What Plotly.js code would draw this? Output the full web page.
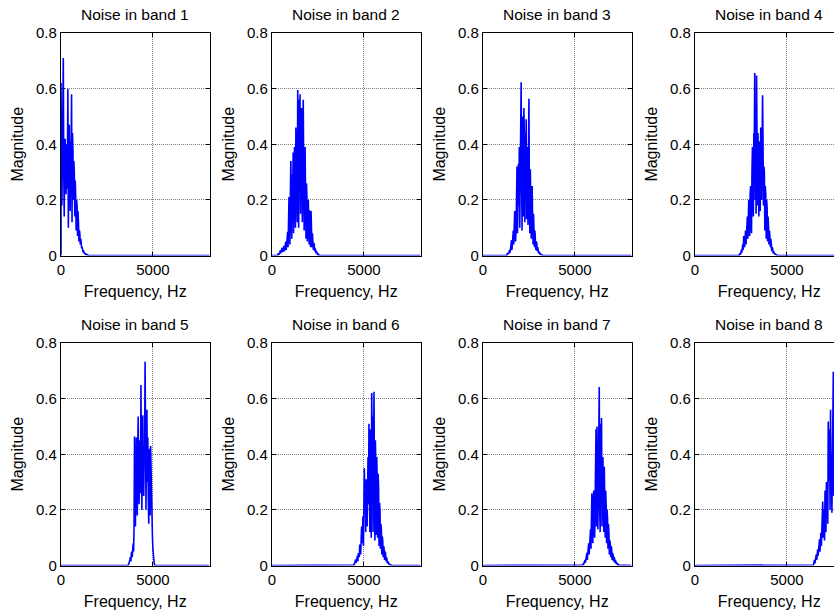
<!DOCTYPE html>
<html>
<head>
<meta charset="utf-8">
<script src="https://cdn.plot.ly/plotly-3.0.1.min.js"></script>
<style>
  html, body { margin: 0; padding: 0; overflow: hidden; background: #fff; }
  #chart { width: 900px; height: 614px; }
</style>
</head>
<body>
<div id="chart"></div>
<script>
// ---------- data ----------
const bandTitles = ["Noise in band 1", "Noise in band 2", "Noise in band 3", "Noise in band 4",
                    "Noise in band 5", "Noise in band 6", "Noise in band 7", "Noise in band 8"];
const xTickValues = [0, 5000];
const xTickLabels = ["0", "5000"];
const yTickValues = [0, 0.2, 0.4, 0.6, 0.8];
const yTickLabels = ["0", "0.2", "0.4", "0.6", "0.8"];
const freqMax = 8080;          // Hz, right edge of every panel
const freqStep = 25;           // Hz between the spectrum bins listed below

// first bin (Hz) of every band's listed magnitudes
const bandStart = [0, 300, 1300, 2400, 3650, 4400, 5400, 6400];

const band1 = [0.62, 0.35, 0.18, 0.44, 0.52, 0.71, 0.30, 0.14, 0.36, 0.42,
               0.25, 0.22, 0.40, 0.24, 0.33, 0.60, 0.10, 0.38, 0.47, 0.28,
               0.16, 0.41, 0.35, 0.58, 0.12, 0.44, 0.38, 0.20, 0.34, 0.30,
               0.14, 0.27, 0.21, 0.09, 0.20, 0.18, 0.07, 0.16, 0.12, 0.05,
               0.09, 0.08, 0.04, 0.06, 0.045, 0.025, 0.03, 0.022, 0.012, 0.018,
               0.01, 0.008, 0.01, 0.005, 0.006, 0.003, 0.004, 0.002, 0.002, 0.001, 0];
const band2 = [0, 0.004, 0.008, 0.003, 0.006, 0.012, 0.018, 0.008, 0.015, 0.022,
               0.028, 0.012, 0.02, 0.03, 0.034, 0.015, 0.03, 0.045, 0.05, 0.02,
               0.04, 0.07, 0.085, 0.03, 0.11, 0.21, 0.15, 0.04, 0.22, 0.34,
               0.18, 0.06, 0.29, 0.22, 0.37, 0.08, 0.30, 0.39, 0.24, 0.10,
               0.46, 0.33, 0.41, 0.12, 0.595, 0.38, 0.10, 0.56, 0.42, 0.58,
               0.15, 0.44, 0.53, 0.36, 0.12, 0.45, 0.56, 0.30, 0.09, 0.33,
               0.39, 0.22, 0.06, 0.26, 0.21, 0.05, 0.18, 0.20, 0.10, 0.04,
               0.163, 0.12, 0.03, 0.16, 0.09, 0.03, 0.08, 0.06, 0.02, 0.045,
               0.04, 0.015, 0.025, 0.02, 0.008, 0.014, 0.01, 0.004, 0.006, 0.005,
               0.002, 0.001, 0];
const band3 = [0, 0.008, 0.004, 0.01, 0.006, 0.015, 0.02, 0.01, 0.025, 0.035,
               0.055, 0.02, 0.045, 0.07, 0.09, 0.04, 0.10, 0.16, 0.12, 0.05,
               0.10, 0.20, 0.32, 0.08, 0.25, 0.33, 0.18, 0.39, 0.10, 0.36,
               0.45, 0.623, 0.30, 0.09, 0.50, 0.38, 0.14, 0.53, 0.42, 0.12,
               0.44, 0.35, 0.49, 0.13, 0.39, 0.30, 0.11, 0.36, 0.564, 0.20,
               0.08, 0.31, 0.24, 0.06, 0.22, 0.25, 0.12, 0.04, 0.15, 0.10,
               0.03, 0.09, 0.07, 0.02, 0.05, 0.045, 0.015, 0.03, 0.02, 0.008,
               0.013, 0.01, 0.004, 0.006, 0.004, 0.002, 0.002, 0.001, 0];
const band4 = [0, 0.004, 0.008, 0.003, 0.012, 0.02, 0.01, 0.025, 0.04, 0.02,
               0.07, 0.05, 0.03, 0.08, 0.09, 0.04, 0.10, 0.12, 0.14, 0.06,
               0.16, 0.20, 0.12, 0.07, 0.22, 0.25, 0.15, 0.08, 0.30, 0.39,
               0.25, 0.14, 0.44, 0.38, 0.656, 0.20, 0.40, 0.15, 0.647, 0.42,
               0.18, 0.44, 0.36, 0.14, 0.41, 0.33, 0.16, 0.46, 0.40, 0.20,
               0.36, 0.576, 0.43, 0.18, 0.32, 0.30, 0.09, 0.25, 0.22, 0.06,
               0.20, 0.17, 0.05, 0.14, 0.105, 0.04, 0.09, 0.07, 0.03, 0.06,
               0.045, 0.015, 0.03, 0.025, 0.008, 0.015, 0.01, 0.004, 0.006, 0.005,
               0.002, 0.003, 0.001, 0.001, 0];
const band5 = [0, 0.004, 0.01, 0.006, 0.02, 0.03, 0.015, 0.04, 0.05, 0.03,
               0.06, 0.08, 0.05, 0.14, 0.464, 0.30, 0.14, 0.36, 0.46, 0.28,
               0.18, 0.42, 0.536, 0.30, 0.22, 0.45, 0.40, 0.26, 0.649, 0.35,
               0.20, 0.44, 0.54, 0.30, 0.25, 0.38, 0.42, 0.733, 0.28, 0.20,
               0.48, 0.56, 0.30, 0.46, 0.24, 0.15, 0.42, 0.35, 0.18, 0.43,
               0.30, 0.32, 0.16, 0.105, 0.06, 0.03, 0.01, 0.005, 0.002, 0.001, 0];
const band6 = [0, 0.002, 0.004, 0.002, 0.008, 0.012, 0.022, 0.01, 0.02, 0.03,
               0.035, 0.015, 0.045, 0.04, 0.03, 0.075, 0.06, 0.04, 0.10, 0.14,
               0.08, 0.12, 0.177, 0.07, 0.20, 0.35, 0.24, 0.27, 0.12, 0.31,
               0.26, 0.14, 0.34, 0.39, 0.22, 0.51, 0.30, 0.12, 0.49, 0.40,
               0.10, 0.62, 0.45, 0.536, 0.12, 0.40, 0.625, 0.30, 0.09, 0.45,
               0.36, 0.11, 0.39, 0.30, 0.10, 0.33, 0.28, 0.07, 0.225, 0.20,
               0.06, 0.15, 0.13, 0.04, 0.105, 0.09, 0.03, 0.07, 0.06, 0.02,
               0.05, 0.045, 0.015, 0.03, 0.025, 0.008, 0.015, 0.01, 0.004, 0.006,
               0.004, 0.002, 0.003, 0.002, 0.001, 0.001, 0];
const band7 = [0, 0.002, 0.005, 0.003, 0.01, 0.015, 0.02, 0.01, 0.025, 0.03,
               0.045, 0.02, 0.05, 0.06, 0.08, 0.04, 0.09, 0.11, 0.13, 0.06,
               0.16, 0.26, 0.18, 0.08, 0.20, 0.27, 0.16, 0.10, 0.22, 0.30,
               0.49, 0.14, 0.50, 0.36, 0.13, 0.46, 0.40, 0.642, 0.20, 0.12,
               0.51, 0.38, 0.53, 0.14, 0.35, 0.39, 0.25, 0.12, 0.355, 0.28,
               0.10, 0.27, 0.22, 0.08, 0.20, 0.17, 0.06, 0.15, 0.12, 0.04,
               0.09, 0.08, 0.03, 0.07, 0.06, 0.02, 0.045, 0.04, 0.015, 0.03,
               0.028, 0.01, 0.02, 0.015, 0.005, 0.01, 0.008, 0.003, 0.005, 0.004,
               0.002, 0.002, 0.001, 0.001, 0];
const band8 = [0, 0.002, 0.003, 0.01, 0.02, 0.008, 0.025, 0.03, 0.04, 0.02,
               0.05, 0.058, 0.035, 0.07, 0.08, 0.094, 0.05, 0.10, 0.118, 0.07,
               0.172, 0.13, 0.23, 0.10, 0.20, 0.166, 0.09, 0.27, 0.237, 0.12,
               0.30, 0.20, 0.27, 0.15, 0.518, 0.30, 0.49, 0.45, 0.20, 0.56,
               0.30, 0.40, 0.19, 0.386, 0.30, 0.697, 0.25, 0.58, 0.32, 0.62,
               0.28, 0.50, 0.35, 0.45, 0.22, 0.40, 0.30, 0.38, 0.20, 0.35,
               0.28, 0.30, 0.18, 0.26, 0.20, 0.22, 0.15, 0.20];
const bands = [band1, band2, band3, band4, band5, band6, band7, band8];

// ---------- layout geometry (pixels) ----------
const W = 900, H = 614;
const colLeft = [61, 272, 483, 695];
const rowTop = [33, 343];
const plotW = 148.5, plotH = 222.5;
const FONT = "'Liberation Sans', Arial, sans-serif";

const traces = [];
const layout = {
  width: W, height: H,
  margin: {l: 0, r: 0, t: 0, b: 0},
  paper_bgcolor: "#ffffff",
  plot_bgcolor: "#ffffff",
  showlegend: false,
  annotations: [],
  font: {family: FONT, color: "#000", size: 15}
};

bands.forEach((vals, i) => {
  const r = Math.floor(i / 4), c = i % 4;
  const n = i + 1;
  const sfx = n === 1 ? "" : String(n);
  const xs = [0], ys = [0];
  vals.forEach((v, k) => { xs.push(bandStart[i] + k * freqStep); ys.push(v); });
  if (xs[xs.length - 1] < freqMax) { xs.push(freqMax); ys.push(ys[ys.length - 1] > 0.05 ? ys[ys.length - 1] : 0); }
  traces.push({
    type: "scatter", mode: "lines", x: xs, y: ys,
    xaxis: "x" + sfx, yaxis: "y" + sfx,
    line: {color: "#0000ff", width: 1.6}, hoverinfo: "skip"
  });
  const x0 = colLeft[c] / W, x1 = (colLeft[c] + plotW) / W;
  const y1 = 1 - rowTop[r] / H, y0 = 1 - (rowTop[r] + plotH) / H;
  const common = {
    showline: true, linecolor: "#000", linewidth: 1.2, mirror: "ticks",
    ticks: "inside", ticklen: 4, tickcolor: "#000", tickwidth: 1,
    showgrid: true, gridcolor: "#808080", griddash: "1px,1px", gridwidth: 1,
    zeroline: false, fixedrange: true, layer: "below traces",
    tickfont: {family: FONT, size: 15, color: "#000"}
  };
  layout["xaxis" + sfx] = Object.assign({}, common, {
    domain: [x0, x1], range: [0, freqMax], anchor: "y" + sfx,
    tickmode: "array", tickvals: xTickValues, ticktext: xTickLabels,
    title: {text: "Frequency, Hz", font: {family: FONT, size: 16, color: "#000"}, standoff: 9}
  });
  layout["yaxis" + sfx] = Object.assign({}, common, {
    domain: [y0, y1], range: [0, 0.8], anchor: "x" + sfx,
    tickmode: "array", tickvals: yTickValues, ticktext: yTickLabels,
    title: {text: "Magnitude", font: {family: FONT, size: 16, color: "#000"}, standoff: 8}
  });
  layout.annotations.push({
    text: bandTitles[i], xref: "paper", yref: "paper",
    x: (colLeft[c] + plotW / 2) / W, y: 1 - (rowTop[r] - 18.5) / H,
    xanchor: "center", yanchor: "middle", showarrow: false,
    font: {family: FONT, size: 15.5, color: "#000"}
  });
});

Plotly.newPlot("chart", traces, layout, {displayModeBar: false, staticPlot: true});
</script>
</body>
</html>
